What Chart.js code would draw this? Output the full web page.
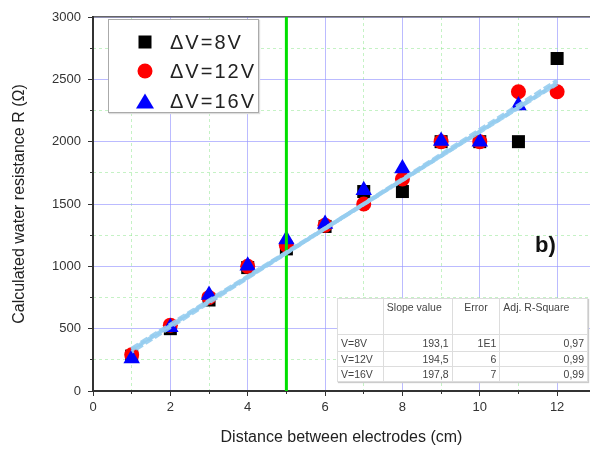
<!DOCTYPE html>
<html>
<head>
<meta charset="utf-8">
<script src="https://cdn.jsdelivr.net/npm/chart.js@4"></script>
<style>
  html, body { margin: 0; padding: 0; background: #fff; }
  #wrap { position: relative; width: 590px; height: 450px; overflow: hidden; font-family: "Liberation Sans", Arial, sans-serif; }
  canvas { position: absolute; left: 0; top: 0; }
  .legend { position: absolute; left: 108px; top: 19px; width: 151px; height: 94px; box-sizing: border-box; background: #fff; border: 1px solid #aaa; box-shadow: 1px 1px 1px #ddd; }
  .legend .row { position: absolute; left: 0; width: 100%; height: 24px; }
  .legend .mark { position: absolute; top: 50%; transform: translate(-50%, -50%); }
  .legend .txt { position: absolute; left: 61px; top: 0; line-height: 24px; font-size: 20px; letter-spacing: 2px; color: #222; }
  .sq { width: 13px; height: 13px; background: #000; }
  .ci { width: 15px; height: 15px; border-radius: 50%; background: #f00; }
  .tr { width: 0; height: 0; border-left: 9px solid transparent; border-right: 9px solid transparent; border-bottom: 15px solid #00f; }
  .fits { position: absolute; left: 337px; top: 298px; width: 251px; border-collapse: collapse; background: #fff; border: 1px solid #999; font-size: 10.5px; color: #444; box-shadow: 1px 1px 1px #ccc; }
  .fits td { border: 1px solid #ddd; padding: 0 3px; white-space: nowrap; }
  .fits tr.head td { height: 33px; vertical-align: top; padding-top: 2px; }
  .fits tr.r1 td { height: 16px; }
  .fits tr.rn td { height: 14px; }
  .fits td.num { text-align: right; }
  .tag { position: absolute; left: 535px; top: 234px; font-size: 22px; line-height: 22px; font-weight: bold; color: #111; }
</style>
</head>
<body>
<div id="wrap">
  <canvas id="chart" width="590" height="450"></canvas>
  <div class="legend" id="legend"></div>
  <table class="fits" id="fits"></table>
  <div class="tag">b)</div>
</div>
<script>
const distances = [1, 2, 3, 4, 5, 6, 7, 8, 9, 10, 11, 12]
const r8V = [280, 500, 730, 990, 1140, 1320, 1600, 1600, 2000, 2000, 2000, 2667]
const r12V = [290, 528, 750, 1000, 1170, 1330, 1500, 1700, 2000, 2000, 2400, 2400]
const r16V = [260, 512, 770, 1005, 1215, 1340, 1610, 1785, 2005, 2000, 2290, null]

// fitted lines, read at x = 1 and x = 12
const fitX = [1, 12]
const fit8V = [340, 2465]
const fit12V = [330, 2470]
const fit16V = [315, 2490]

const guideX = 5
const xTicks = [0, 2, 4, 6, 8, 10, 12]
const xMinor = [1, 3, 5, 7, 9, 11]
const yMinor = [250, 750, 1250, 1750, 2250, 2750]

const seriesNames = ['\u0394V=8V', '\u0394V=12V', '\u0394V=16V']
const fitLabels = ['V=8V', 'V=12V', 'V=16V']
const slopeValues = ['193,1', '194,5', '197,8']
const errorValues = ['1E1', '6', '7']
const adjR2 = ['0,97', '0,99', '0,99']

const X_MAX = 12.85
const font = 'Liberation Sans'

const pts = arr => distances.map((d, i) => ({ x: d, y: arr[i] })).filter(p => p.y !== null)
const fitPts = arr => fitX.map((d, i) => ({ x: d, y: arr[i] }))

const fitStyle = {
  type: 'line', borderColor: 'rgba(150,205,240,0.9)', borderWidth: 4,
  borderDash: [8, 3], pointRadius: 0, order: 0
}
const noPad = s => { s.paddingLeft = 0; s.paddingRight = 0; s.paddingTop = 0; s.paddingBottom = 0 }

new Chart(document.getElementById('chart'), {
  type: 'scatter',
  data: {
    datasets: [
      { ...fitStyle, data: fitPts(fit8V) },
      { ...fitStyle, data: fitPts(fit12V), borderDashOffset: 3 },
      { ...fitStyle, data: fitPts(fit16V), borderDashOffset: 6 },
      { type: 'line', data: [{ x: guideX, y: 0 }, { x: guideX, y: 3000 }], borderColor: '#00e000', borderWidth: 3, pointRadius: 0, order: 1 },
      { label: seriesNames[2], data: pts(r16V), pointStyle: 'triangle', pointRadius: 9.5, backgroundColor: '#0000ff', borderColor: '#0000ff', borderWidth: 0, order: 2 },
      { label: seriesNames[1], data: pts(r12V), pointStyle: 'circle', pointRadius: 7.5, backgroundColor: '#ff0000', borderColor: '#ff0000', borderWidth: 0, order: 3 },
      { label: seriesNames[0], data: pts(r8V), pointStyle: 'rect', pointRadius: 9.2, backgroundColor: '#000', borderColor: '#000', borderWidth: 0, order: 4 }
    ]
  },
  options: {
    responsive: false,
    animation: false,
    devicePixelRatio: 1,
    // plot runs right up to the picture's right edge
    layout: { autoPadding: false, padding: { top: 17, left: 0, right: 0, bottom: 0 } },
    plugins: { legend: { display: false }, tooltip: { enabled: false } },
    scales: {
      x: {
        type: 'linear', min: 0, max: X_MAX,
        afterBuildTicks: s => { s.ticks = xTicks.map(v => ({ value: v })) },
        afterFit: s => { s.height = 59; noPad(s) },
        grid: { color: 'rgba(150,150,255,0.65)', lineWidth: 1, tickColor: '#333', tickLength: 5 },
        border: { color: '#333', width: 2 },
        ticks: { color: '#333', font: { family: font, size: 13 }, padding: 4, maxRotation: 0 },
        title: { display: true, text: 'Distance between electrodes (cm)', color: '#222', font: { family: font, size: 16 }, padding: { bottom: 3 } }
      },
      xm: {
        type: 'linear', position: 'bottom', min: 0, max: X_MAX, weight: -5,
        afterBuildTicks: s => { s.ticks = xMinor.map(v => ({ value: v })) },
        afterFit: s => { s.height = 0; noPad(s) },
        grid: { color: 'rgba(140,230,140,0.5)', lineWidth: 1, tickColor: '#333', tickLength: 3 },
        border: { display: false, dash: [3, 3] },
        ticks: { display: false }
      },
      xt: {
        type: 'linear', position: 'top', min: 0, max: X_MAX,
        afterFit: s => { s.height = 0; noPad(s) },
        grid: { drawOnChartArea: false, drawTicks: false },
        border: { color: '#666', width: 1.5 },
        ticks: { display: false }
      },
      y: {
        type: 'linear', min: 0, max: 3000,
        afterFit: s => { s.width = 93; noPad(s) },
        grid: { color: 'rgba(150,150,255,0.65)', lineWidth: 1, tickColor: '#333', tickLength: 5 },
        border: { color: '#333', width: 2 },
        ticks: { stepSize: 500, color: '#333', font: { family: font, size: 13 }, padding: 7, callback: v => String(v) },
        title: { display: true, text: 'Calculated water resistance R (\u03A9)', color: '#222', font: { family: font, size: 16 }, padding: { top: 10 } }
      },
      ym: {
        type: 'linear', position: 'left', min: 0, max: 3000, weight: -5,
        afterBuildTicks: s => { s.ticks = yMinor.map(v => ({ value: v })) },
        afterFit: s => { s.width = 0; noPad(s) },
        grid: { color: 'rgba(140,230,140,0.5)', lineWidth: 1, tickColor: '#333', tickLength: 3 },
        border: { display: false, dash: [3, 3] },
        ticks: { display: false }
      }
    }
  }
})

// legend
const legendRows = [
  { cls: 'sq', top: 10 },
  { cls: 'ci', top: 39 },
  { cls: 'tr', top: 69 }
]
document.getElementById('legend').innerHTML = legendRows.map((r, i) => `
  <div class="row" style="top:${r.top}px">
    <div class="mark ${r.cls}" style="left:36px"></div>
    <div class="txt">${seriesNames[i]}</div>
  </div>`).join('')

// fit table
const fits = document.getElementById('fits')
fits.innerHTML = '<colgroup><col style="width:46px"><col style="width:69px"><col style="width:48px"><col style="width:88px"></colgroup>' +
  '<tr class="head"><td></td><td>Slope value</td><td style="text-align:center">Error</td><td>Adj. R-Square</td></tr>' +
  fitLabels.map((l, i) => `<tr class="${i === 0 ? 'r1' : 'rn'}"><td>${l}</td><td class="num">${slopeValues[i]}</td><td class="num">${errorValues[i]}</td><td class="num">${adjR2[i]}</td></tr>`).join('')
</script>
</body>
</html>
